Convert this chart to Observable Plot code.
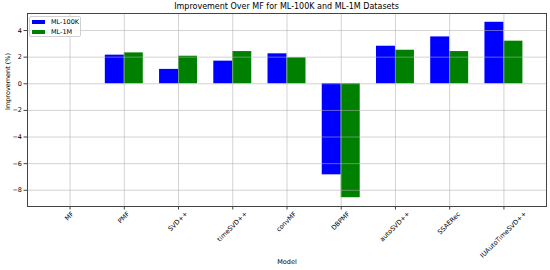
<!DOCTYPE html>
<html>
<head>
<meta charset="utf-8">
<script src="https://cdn.jsdelivr.net/npm/d3@7"></script>
<script src="https://cdn.jsdelivr.net/npm/@observablehq/plot@0.6"></script>
<style>
  html, body { margin: 0; padding: 0; background: #fff; }
  #wrap { position: relative; width: 550px; height: 270px; font-family: "DejaVu Sans", sans-serif; }
  #title { height: 13px; line-height: 13px; font-size: 8px; text-align: center; padding-left: 27px; padding-right: 4px; color: #000; white-space: nowrap; }
  #legend { position: absolute; left: 29px; top: 16px; width: 50px; height: 19px; border: 1px solid #d0d0d0; border-radius: 2px; background: rgba(255,255,255,0.8); }
  .li { position: absolute; left: 0; font-size: 6.5px; height: 8px; line-height: 8px; color: #000; }
  .sw { position: absolute; left: 2px; top: 2px; width: 13px; height: 4px; }
  .lt { position: absolute; left: 21px; top: 0; white-space: nowrap; }
  svg { display: block; }
</style>
</head>
<body>
<div id="wrap">
  <div id="title"></div>
  <div id="chart"></div>
  <div id="legend"></div>
</div>
<script>
const titleText = "Improvement Over MF for ML-100K and ML-1M Datasets";
const models = ["MF", "PMF", "SVD++", "timeSVD++", "convMF", "DBPMF", "autoSVD++", "SSAERec", "IUAutoTimeSVD++"];
const ml100k = [0, 2.15, 1.08, 1.70, 2.25, -6.84, 2.82, 3.52, 4.62];
const ml1m = [0, 2.32, 2.07, 2.42, 1.95, -8.56, 2.52, 2.42, 3.20];
const seriesNames = ["ML-100K", "ML-1M"];
const seriesColors = ["#0000ff", "#008000"];
const yTicks = [-8, -6, -4, -2, 0, 2, 4];
const xLabel = "Model";
const yLabel = "Improvement (%)";
const barWidth = 0.35;

document.getElementById("title").textContent = titleText;

const rows = models.flatMap((m, i) => [
  {i, model: m, series: seriesNames[0], value: ml100k[i], off: -barWidth},
  {i, model: m, series: seriesNames[1], value: ml1m[i], off: 0}
]);

const allVals = ml100k.concat(ml1m);
const lo = d3.min(allVals), hi = d3.max(allVals);
const yPad = 0.05 * (hi - lo);
const xLo = -barWidth, xHi = models.length - 1 + barWidth;
const xPad = 0.05 * (xHi - xLo);

const H = 257, MB = 64;
const chart = Plot.plot({
  width: 550,
  height: H,
  marginLeft: 27,
  marginRight: 4,
  marginTop: 0,
  marginBottom: MB,
  style: {fontFamily: "DejaVu Sans, sans-serif", fontSize: "6.5px", color: "#000", background: "#fff"},
  x: {type: "linear", domain: [xLo - xPad, xHi + xPad]},
  y: {domain: [lo - yPad, hi + yPad]},
  color: {domain: seriesNames, range: seriesColors},
  marks: [
    Plot.rect(rows, {x1: d => d.i + d.off, x2: d => d.i + d.off + barWidth, y1: 0, y2: "value", fill: "series"}),
    Plot.gridX(d3.range(models.length), {stroke: "#b0b0b0", strokeOpacity: 0.7, strokeWidth: 0.8}),
    Plot.gridY(yTicks, {stroke: "#b0b0b0", strokeOpacity: 0.7, strokeWidth: 0.8}),
    Plot.axisY(yTicks, {tickSize: 3.5, tickPadding: 2, fontSize: 6.5, label: null, stroke: "#444", tickFormat: d => d < 0 ? "\u2212" + Math.abs(d) : String(d)}),
    Plot.axisX(d3.range(models.length), {tickSize: 3.5, tickFormat: () => "", label: null, stroke: "#444"}),
    Plot.text(models, {x: (d, i) => i, frameAnchor: "bottom", rotate: -45, textAnchor: "middle", fontSize: 6.5, fill: "#000", className: "xtl"}),
    Plot.text([yLabel], {frameAnchor: "left", rotate: -90, dx: -20, fontSize: 6.5, fill: "#000"}),
    Plot.text([xLabel], {frameAnchor: "bottom", dy: 57, fontSize: 6.5, fill: "#000"}),
    Plot.frame({stroke: "#444", strokeWidth: 1})
  ]
});
document.getElementById("chart").appendChild(chart);

// Place rotated x tick labels like matplotlib (rotated bbox centered under its tick)
const frameBottom = H - MB;
const svgRect = chart.getBoundingClientRect();
const texts = chart.querySelectorAll("g.xtl text, .xtl text");
texts.forEach((t, i) => {
  const r = t.getBoundingClientRect();
  const curCx = r.left - svgRect.left + r.width / 2;
  const curTop = r.top - svgRect.top;
  const targetCx = chart.scale("x").apply(i);
  const targetTop = frameBottom + 4;
  const ddx = targetCx - curCx, ddy = targetTop - curTop;
  const tr = t.getAttribute("transform") || "";
  t.setAttribute("transform", `translate(${ddx},${ddy}) ${tr}`);
});

// Legend
const legend = document.getElementById("legend");
seriesNames.forEach((name, k) => {
  const item = document.createElement("div");
  item.className = "li";
  item.style.top = (1 + k * 10) + "px";
  item.style.width = "100%";
  const sw = document.createElement("div");
  sw.className = "sw";
  sw.style.background = seriesColors[k];
  const lt = document.createElement("div");
  lt.className = "lt";
  lt.textContent = name;
  item.appendChild(sw);
  item.appendChild(lt);
  legend.appendChild(item);
});
</script>
</body>
</html>
